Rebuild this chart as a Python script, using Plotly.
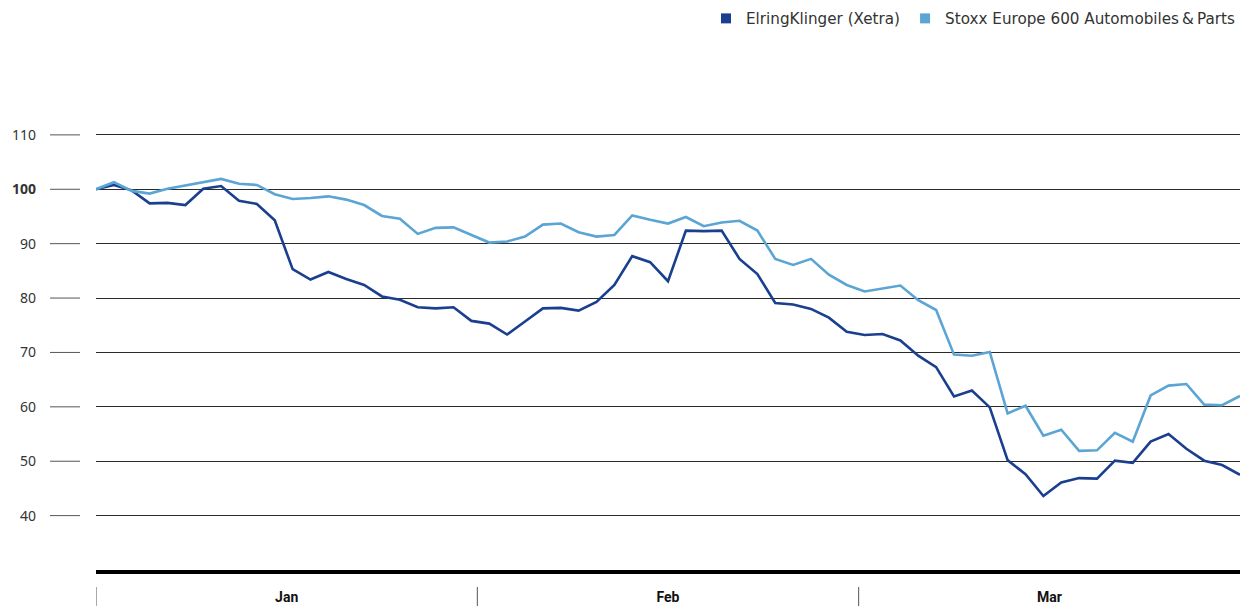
import plotly.graph_objects as go

# ---- data ----
elring = [100, 100.8, 99.8, 97.4, 97.5, 97.1, 100.1, 100.6, 97.9, 97.3, 94.3,
          85.3, 83.4, 84.8, 83.5, 82.4, 80.3, 79.7, 78.3, 78.1, 78.3, 75.8,
          75.3, 73.3, 75.7, 78.1, 78.2, 77.7, 79.3, 82.4, 87.7, 86.6, 83.1,
          92.4, 92.3, 92.4, 87.2, 84.4, 79.1, 78.8, 78.0, 76.4, 73.8, 73.2,
          73.4, 72.2, 69.4, 67.3, 61.9, 63.0, 59.9, 50.2, 47.6, 43.6, 46.1,
          46.9, 46.8, 50.1, 49.7, 53.6, 55.0, 52.3, 50.1, 49.3, 47.5]
stoxx = [100, 101.3, 99.7, 99.2, 100.1, 100.7, 101.4, 101.9, 101.0, 100.8, 99.1,
         98.2, 98.4, 98.7, 98.1, 97.1, 95.1, 94.6, 91.8, 92.9, 93.0, 91.6,
         90.2, 90.4, 91.3, 93.5, 93.7, 92.1, 91.3, 91.6, 95.2, 94.4, 93.7,
         94.9, 93.2, 93.9, 94.2, 92.4, 87.2, 86.1, 87.2, 84.3, 82.4, 81.2,
         81.7, 82.3, 79.6, 77.8, 69.6, 69.4, 70.1, 58.8, 60.2, 54.7, 55.8,
         51.9, 52.0, 55.2, 53.6, 62.1, 63.9, 64.2, 60.4, 60.3, 62.0]
months = ["Jan", "Feb", "Mar"]
y_ticks = [40, 50, 60, 70, 80, 90, 100, 110]
series_names = ["ElringKlinger (Xetra)", "Stoxx Europe 600 Automobiles\u2009&\u2009Parts"]
colors = ["#1b3f8f", "#5ba5d5"]

x_idx = list(range(len(elring)))

fig = go.Figure()
for name, vals, col in zip(series_names, [elring, stoxx], colors):
    fig.add_trace(go.Scatter(x=x_idx, y=vals, mode="lines", name=name,
                             line=dict(color=col, width=2.6), showlegend=False,
                             hoverinfo="skip"))
for name, col in zip(series_names, colors):
    fig.add_trace(go.Scatter(x=[None], y=[None], mode="markers", name=name,
                             marker=dict(symbol="square", size=10, color=col)))

# x-axis for months (overlay)
fig.add_trace(go.Scatter(x=[0, len(months)], y=[None, None], xaxis="x2",
                         showlegend=False, hoverinfo="skip"))

ticktext = [("<b>%d</b>" % v) if v == 100 else str(v) for v in y_ticks]

PLOT_H = 446
PLOT_W = 1144

shapes = []
for v in y_ticks:
    shapes.append(dict(type="line", xref="paper", yref="y",
                       x0=-46 / PLOT_W, x1=-16 / PLOT_W, y0=v, y1=v,
                       line=dict(color="#555555", width=1)))
for i in range(len(months)):
    shapes.append(dict(type="line", xref="x2", yref="paper",
                       x0=i, x1=i, y0=-17 / PLOT_H, y1=-40 / PLOT_H,
                       line=dict(color="#555555", width=1)))

fig.update_layout(
    width=1240, height=606,
    margin=dict(l=96, r=0, t=124, b=36, autoexpand=False),
    paper_bgcolor="white", plot_bgcolor="white",
    font=dict(family="Noto Sans, sans-serif", size=14, color="#333333"),
    showlegend=True,
    legend=dict(orientation="h", x=1, xanchor="right", y=1 + 122 / PLOT_H,
                yanchor="top",
                font=dict(family="DejaVu Sans, sans-serif", size=15.2, color="#333333"),
                itemwidth=30, traceorder="normal"),
    xaxis=dict(range=[0, len(elring) - 1], showgrid=False, zeroline=False,
               showticklabels=False, ticks="", showline=True, automargin=False,
               linecolor="black", linewidth=4, fixedrange=True),
    xaxis2=dict(range=[0, len(months)], overlaying="x", side="bottom",
                anchor="y", tickvals=[i + 0.5 for i in range(len(months))],
                ticktext=["<b>%s</b>" % m for m in months], ticks="",
                showgrid=False, zeroline=False, showline=False, automargin=False,
                ticklabelstandoff=17,
                tickfont=dict(family="Liberation Sans Narrow, Roboto, sans-serif",
                              size=14, color="#111111")),
    yaxis=dict(range=[30, 112], tickvals=y_ticks, ticktext=ticktext,
               showgrid=True, gridcolor="#2a2a2a", gridwidth=1, automargin=False,
               zeroline=False, ticks="", showline=False,
               ticklabelstandoff=59, tickfont=dict(size=14, color="#333333")),
    shapes=shapes,
)

fig.write_html("out.html", config={"displayModeBar": False},
               post_script="document.body.style.margin='0';document.body.style.overflow='hidden';")
